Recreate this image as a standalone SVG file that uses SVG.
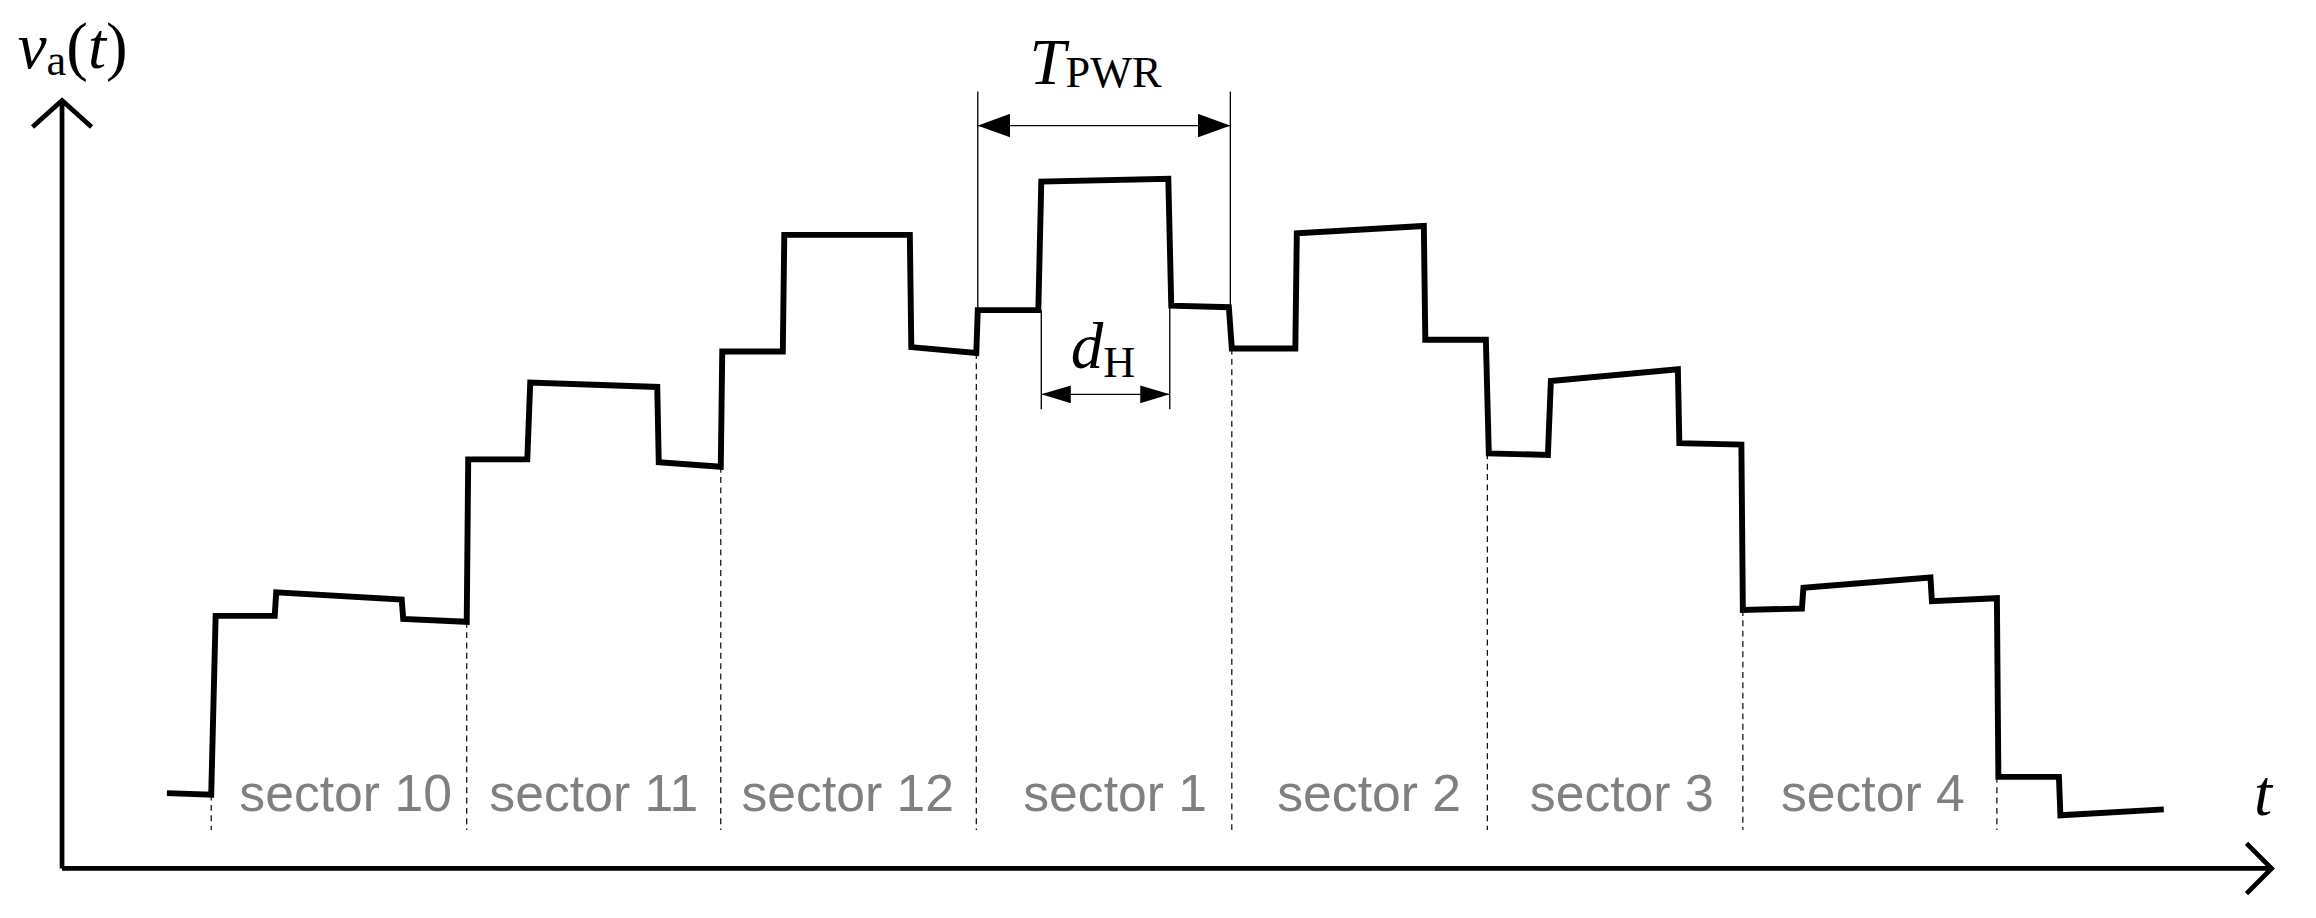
<svg xmlns="http://www.w3.org/2000/svg" width="2316" height="918" viewBox="0 0 2316 918">
<style>
.ax{fill:none;stroke:#000;stroke-width:3.2}
.wave{fill:none;stroke:#000;stroke-width:4;stroke-linejoin:miter}
.dash{stroke:#000;stroke-width:0.8;stroke-dasharray:4 3}
.thin{stroke:#000;stroke-width:0.9}
.sec{font-family:"Liberation Sans",Arial,sans-serif;font-size:35px;fill:#808080;text-anchor:middle}
.m{font-family:"Liberation Serif","Times New Roman",serif;fill:#000}
</style>
<defs>
<marker id="ah" viewBox="0 0 22 16" refX="22" refY="8" markerWidth="22" markerHeight="16" markerUnits="userSpaceOnUse" orient="auto-start-reverse"><path d="M0,0 L22,8 L0,16 z" fill="#000"/></marker>
<marker id="ah2" viewBox="0 0 20 12" refX="20" refY="6" markerWidth="20" markerHeight="12" markerUnits="userSpaceOnUse" orient="auto-start-reverse"><path d="M0,0 L20,6 L0,12 z" fill="#000"/></marker>
</defs>
<rect width="2316" height="918" fill="#fff"/>
<g transform="scale(1.477)">
<g id="axes">
<path class="ax" d="M42,588 V70 M22,86 L42,68 L62,86"/>
<path class="ax" d="M42,588 H1536 M1521,571 L1538,588 L1521,605"/>
</g>
<g id="connectors">
<line class="dash" x1="143" y1="538" x2="143" y2="562"/>
<line class="dash" x1="316" y1="421" x2="316" y2="562"/>
<line class="dash" x1="488" y1="316" x2="488" y2="562"/>
<line class="dash" x1="661" y1="239" x2="661" y2="562"/>
<line class="dash" x1="834" y1="236" x2="834" y2="562"/>
<line class="dash" x1="1007" y1="307" x2="1007" y2="562"/>
<line class="dash" x1="1180" y1="413" x2="1180" y2="562"/>
<line class="dash" x1="1352" y1="526" x2="1352" y2="562"/>
<line class="thin" x1="662" y1="62" x2="662" y2="210"/>
<line class="thin" x1="833" y1="62" x2="833" y2="208"/>
<line class="thin" x1="705" y1="210" x2="705" y2="277"/>
<line class="thin" x1="792" y1="207" x2="792" y2="277"/>
<line class="thin" x1="662" y1="85" x2="833" y2="85" marker-start="url(#ah)" marker-end="url(#ah)"/>
<line class="thin" x1="705" y1="267" x2="792" y2="267" marker-start="url(#ah2)" marker-end="url(#ah2)"/>
</g>
<g id="waveform">
<polyline class="wave" points="113,537 143,538 146,417 186,417 187,401 272,406 273,419 316,421 317,311 357,311 359,259 445,262 446,313 488,316 489,238 530,238 531,159 616,159 617,235 661,239 662,210 703,210 705,123 791,121 793,207 832,208 834,236 877,236 878,158 964,153 965,230 1006,230 1008,307 1048,308 1050,258 1136,250 1137,300 1179,301 1180,413 1220,412 1221,398 1307,391 1308,407 1352,405 1353,526 1394,526 1395,552 1465,548"/>
</g>
<g id="labels">
<text class="sec" x="234" y="549">sector 10</text>
<text class="sec" x="402" y="549">sector 11</text>
<text class="sec" x="574" y="549">sector 12</text>
<text class="sec" x="755" y="549">sector 1</text>
<text class="sec" x="927" y="549">sector 2</text>
<text class="sec" x="1098" y="549">sector 3</text>
<text class="sec" x="1268" y="549">sector 4</text>
<text class="m" x="12" y="46" font-size="44"><tspan font-style="italic">v</tspan><tspan font-size="30" dy="5">a</tspan><tspan dy="-5">(</tspan><tspan font-style="italic">t</tspan>)</text>
<text class="m" x="697" y="57" font-size="44" font-style="italic">T<tspan font-style="normal" font-size="30" dy="2">PWR</tspan></text>
<text class="m" x="725" y="249" font-size="44" font-style="italic">d<tspan font-style="normal" font-size="30" dy="6">H</tspan></text>
<text class="m" x="1526" y="552" font-size="44" font-style="italic">t</text>
</g>
</g>
</svg>
